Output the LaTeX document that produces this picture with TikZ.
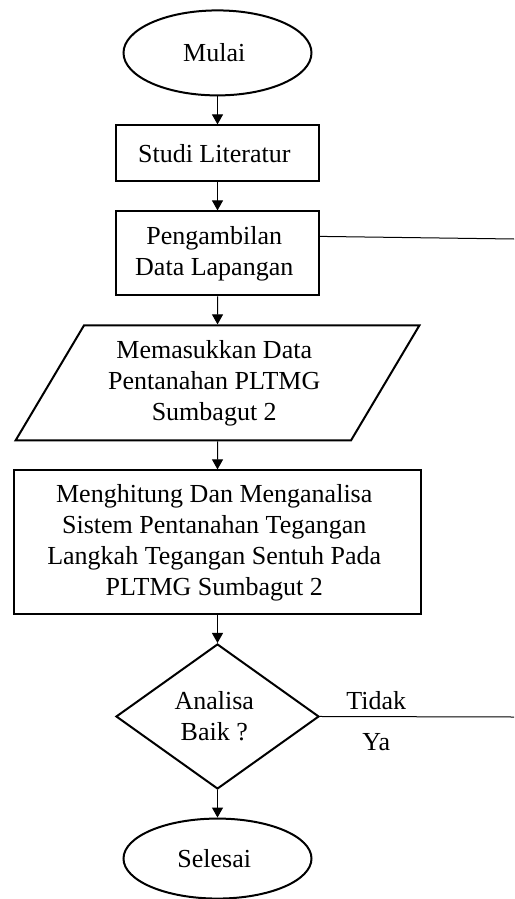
\documentclass[tikz,border=0pt]{standalone}
\usepackage{fontspec}
\setmainfont{Liberation Serif}
\usetikzlibrary{positioning, matrix, shapes.geometric, arrows.meta}

\tikzset{
  terminal/.style={ellipse, minimum width=94pt, minimum height=42.5pt, inner sep=0pt},
  proses/.style={rectangle, minimum width=101.5pt},
  data/.style={trapezium, trapezium left angle=55, trapezium right angle=125,
    trapezium stretches=true, minimum width=202pt, minimum height=57.5pt, inner sep=0pt},
  keputusan/.style={diamond, aspect=1.4, minimum width=101.5pt, minimum height=72.5pt, inner sep=0pt},
}

\begin{document}
\begin{tikzpicture}[x=0.5pt, y=-0.5pt, font=\fontsize{13}{15.5}\selectfont,
  >={Triangle[length=5pt, width=5.5pt]}]
  \useasboundingbox (0,0) rectangle (514,899);
  \matrix (m) [
    matrix of nodes,
    nodes={draw, line width=1pt, align=center},
    row sep=14pt,
    inner sep=0pt,
    anchor=north,
  ] at (217.5,9) {
    |[terminal]| Mulai \\
    |[proses, minimum height=28pt]| Studi Literatur \\
    |[proses, minimum height=42pt]| {\parbox{3.2cm}{\centering Pengambilan\\Data Lapangan}} \\
    |[data]| {\parbox{4cm}{\centering Memasukkan Data\\Pentanahan PLTMG\\Sumbagut 2}} \\
    |[proses, minimum width=203pt, minimum height=72pt]| {\parbox{6.3cm}{\centering Menghitung Dan Menganalisa\\Sistem Pentanahan Tegangan\\Langkah Tegangan Sentuh Pada\\PLTMG Sumbagut 2}} \\
    |[keputusan]| {\parbox{1.5cm}{\centering Analisa\\Baik ?}} \\
    |[terminal, minimum height=40pt]| Selesai \\
  };

  \coordinate (kanan-1) at (514,239);
  \coordinate (kanan-2) at (514,717);

  \begin{scope}[
    line width=0.5pt,
  ]
    \draw[->]
      (m-1-1) -- (m-2-1);
    \draw[->]
      (m-2-1) -- (m-3-1);
    \draw[->]
      (m-3-1) -- (m-4-1);
    \draw[->]
      (m-4-1) -- (m-5-1);
    \draw[->]
      (m-5-1) -- (m-6-1);
    \draw[->]
      (m-6-1) -- (m-7-1);
    \draw
      ([yshift=8.5pt]m-3-1.east) -- (kanan-1);
    \draw
      (m-6-1.east) -- node[pos=0.29, above=0pt] {Tidak} node[pos=0.29, below=5pt] {Ya} (kanan-2);
  \end{scope}
\end{tikzpicture}
\end{document}
